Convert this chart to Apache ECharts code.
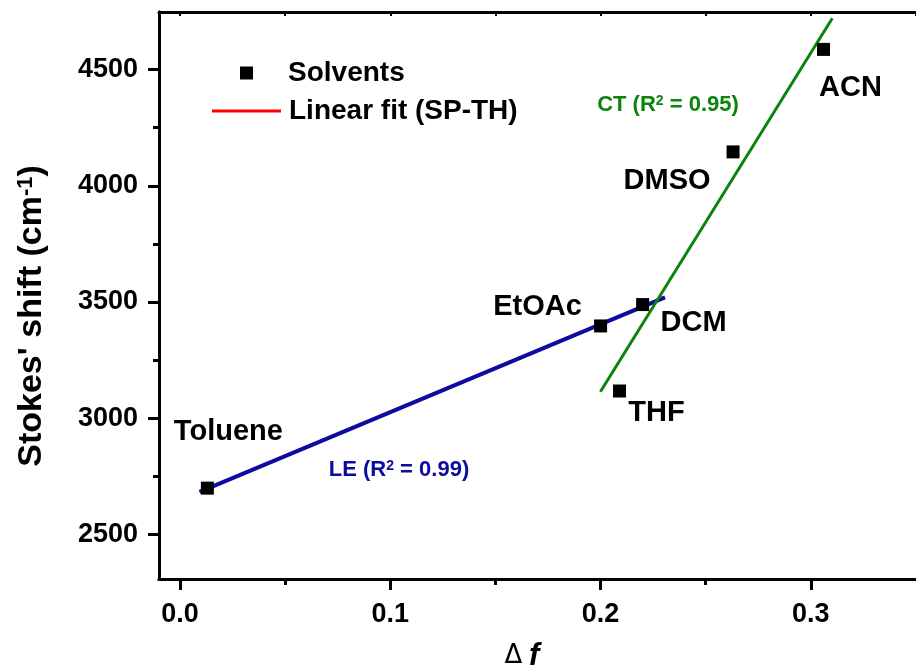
<!DOCTYPE html>
<html>
<head>
<meta charset="UTF-8">
<title>Stokes shift vs orientation polarizability</title>
<script src="https://cdn.jsdelivr.net/npm/echarts@6/dist/echarts.min.js"></script>
<style>
  html, body { margin: 0; padding: 0; background: #fff; }
  #chart { width: 916px; height: 670px; }
</style>
</head>
<body>
<div id="chart"></div>
<script>
// solvents (data points)
var solventNames = ['Toluene', 'EtOAc', 'DCM', 'THF', 'DMSO', 'ACN'];
var deltaF = [0.013, 0.200, 0.220, 0.209, 0.263, 0.306];
var stokesShift = [2699, 3397, 3489, 3117, 4146, 4587];
// label offsets (px) for each solvent name
var labelOffsets = [[21, -56], [-63, -19], [51, 18], [37, 22], [-66, 29], [27, 39]];

// fitted lines (end points)
var leFitX = [0.0093, 0.2306];
var leFitY = [2683, 3520];
var ctFitX = [0.1999, 0.3102];
var ctFitY = [3114, 4721];

// axis ticks
var xMajor = [0, 0.1, 0.2, 0.3];
var xMinor = [0.05, 0.15, 0.25];
var xTop = [0, 0.05, 0.1, 0.15, 0.2, 0.25, 0.3, 0.35];
var yMajor = [2500, 3000, 3500, 4000, 4500];
var yMinor = [2750, 3250, 3750, 4250];

var FONT = 'Liberation Sans';
var X_MIN = -0.01, X_MAX = 0.35, Y_MIN = 2308, Y_MAX = 4748;

function pairs(xs, ys) {
    return xs.map(function (x, i) { return [x, ys[i]]; });
}

var myChart = echarts.init(document.getElementById('chart'));

var scatterData = solventNames.map(function (n, i) {
    return {
        name: n,
        value: [deltaF[i], stokesShift[i]],
        label: { offset: labelOffsets[i] }
    };
});

function xAxisBase(pos) {
    return {
        type: 'value', min: X_MIN, max: X_MAX, position: pos,
        splitLine: { show: false },
        axisLine: { show: true, onZero: false, lineStyle: { color: '#000', width: 3 } }
    };
}
function yAxisBase() {
    return {
        type: 'value', min: Y_MIN, max: Y_MAX, position: 'left',
        splitLine: { show: false },
        axisLine: { show: true, onZero: false, lineStyle: { color: '#000', width: 3 } }
    };
}

var legendText = { fontFamily: FONT, fontWeight: 'bold', fontSize: 28, color: '#000' };

var option = {
    animation: false,
    backgroundColor: '#fff',
    grid: { left: 159, top: 12, width: 764, height: 567, containLabel: false },
    legend: [
        {
            // scatter entry
            left: 240, top: 59, padding: 0,
            itemWidth: 13, itemHeight: 13,
            data: [{ name: 'Solvents', icon: 'rect' }],
            textStyle: Object.assign({ padding: [0, 0, 0, 30] }, legendText)
        },
        {
            // fit entry
            left: 212, top: 97, padding: 0,
            itemWidth: 69, itemHeight: 3,
            data: [{ name: 'Linear fit (SP-TH)', icon: 'rect' }],
            textStyle: Object.assign({ padding: [0, 0, 0, 3] }, legendText)
        }
    ],
    xAxis: [
        Object.assign(xAxisBase('bottom'), {
            axisTick: { show: true, inside: false, length: 11, customValues: xMajor, lineStyle: { width: 3, color: '#000' } },
            axisLabel: {
                show: true, customValues: xMajor, margin: 22,
                formatter: function (v) { return v.toFixed(1); },
                fontFamily: FONT, fontWeight: 'bold', fontSize: 27, color: '#000'
            }
        }),
        Object.assign(xAxisBase('bottom'), {
            axisTick: { show: true, inside: false, length: 6, customValues: xMinor, lineStyle: { width: 3, color: '#000' } },
            axisLabel: { show: false }
        }),
        Object.assign(xAxisBase('top'), {
            axisTick: { show: true, inside: true, length: 4, customValues: xTop, lineStyle: { width: 2, color: '#000' } },
            axisLabel: { show: false }
        })
    ],
    yAxis: [
        Object.assign(yAxisBase(), {
            axisTick: { show: true, inside: false, length: 11, customValues: yMajor, lineStyle: { width: 3, color: '#000' } },
            axisLabel: {
                show: true, customValues: yMajor, margin: 21,
                formatter: function (v) { return String(v); },
                fontFamily: FONT, fontWeight: 'bold', fontSize: 27, color: '#000'
            }
        }),
        Object.assign(yAxisBase(), {
            axisTick: { show: true, inside: false, length: 6, customValues: yMinor, lineStyle: { width: 3, color: '#000' } },
            axisLabel: { show: false }
        })
    ],
    series: [
        {
            name: 'Linear fit (SP-TH)',
            type: 'line',
            xAxisIndex: 0, yAxisIndex: 0,
            symbol: 'none', showSymbol: false,
            color: '#ff0000',
            lineStyle: { color: '#ff0000', width: 3 },
            data: pairs(leFitX, leFitY),
            z: 2
        },
        {
            name: 'LE fit',
            type: 'line',
            xAxisIndex: 0, yAxisIndex: 0,
            symbol: 'none', showSymbol: false,
            lineStyle: { color: '#0c0ca0', width: 4 },
            data: pairs(leFitX, leFitY),
            z: 3
        },
        {
            name: 'CT fit',
            type: 'line',
            xAxisIndex: 0, yAxisIndex: 0,
            symbol: 'none', showSymbol: false,
            lineStyle: { color: '#0a840a', width: 3 },
            data: pairs(ctFitX, ctFitY),
            z: 3
        },
        {
            name: 'Solvents',
            type: 'scatter',
            xAxisIndex: 0, yAxisIndex: 0,
            symbol: 'rect',
            symbolSize: 13,
            color: '#000',
            itemStyle: { color: '#000', opacity: 1 },
            label: {
                show: true,
                position: 'inside',
                formatter: '{b}',
                fontFamily: FONT, fontWeight: 'bold', fontSize: 29, color: '#000'
            },
            emphasis: { disabled: true },
            data: scatterData,
            z: 4
        }
    ],
    graphic: [
        {
            type: 'text', x: 32, y: 316, rotation: Math.PI / 2,
            style: {
                text: "Stokes' shift (cm{sup|-1})",
                align: 'center', verticalAlign: 'middle',
                fontFamily: FONT, fontWeight: 'bold', fontSize: 34, fill: '#000',
                rich: { sup: { fontFamily: FONT, fontWeight: 'bold', fontSize: 22, verticalAlign: 'top', fill: '#000' } }
            }
        },
        {
            type: 'text', x: 522, y: 656,
            style: {
                text: '{d|Δ}  {f|f}',
                align: 'center', verticalAlign: 'middle',
                rich: {
                    d: { fontFamily: 'DejaVu Sans', fontSize: 26, fill: '#000' },
                    f: { fontFamily: FONT, fontWeight: 'bold', fontStyle: 'italic', fontSize: 31, fill: '#000' }
                }
            }
        },
        {
            type: 'text', x: 399, y: 470,
            style: {
                text: 'LE (R{sup|2} = 0.99)',
                align: 'center', verticalAlign: 'middle',
                fontFamily: FONT, fontWeight: 'bold', fontSize: 22, fill: '#0c0ca0',
                rich: { sup: { fontFamily: FONT, fontWeight: 'bold', fontSize: 14, verticalAlign: 'top', fill: '#0c0ca0' } }
            }
        },
        {
            type: 'text', x: 668, y: 105,
            style: {
                text: 'CT (R{sup|2} = 0.95)',
                align: 'center', verticalAlign: 'middle',
                fontFamily: FONT, fontWeight: 'bold', fontSize: 22, fill: '#0a840a',
                rich: { sup: { fontFamily: FONT, fontWeight: 'bold', fontSize: 14, verticalAlign: 'top', fill: '#0a840a' } }
            }
        }
    ]
};

myChart.setOption(option, true);
</script>
</body>
</html>
